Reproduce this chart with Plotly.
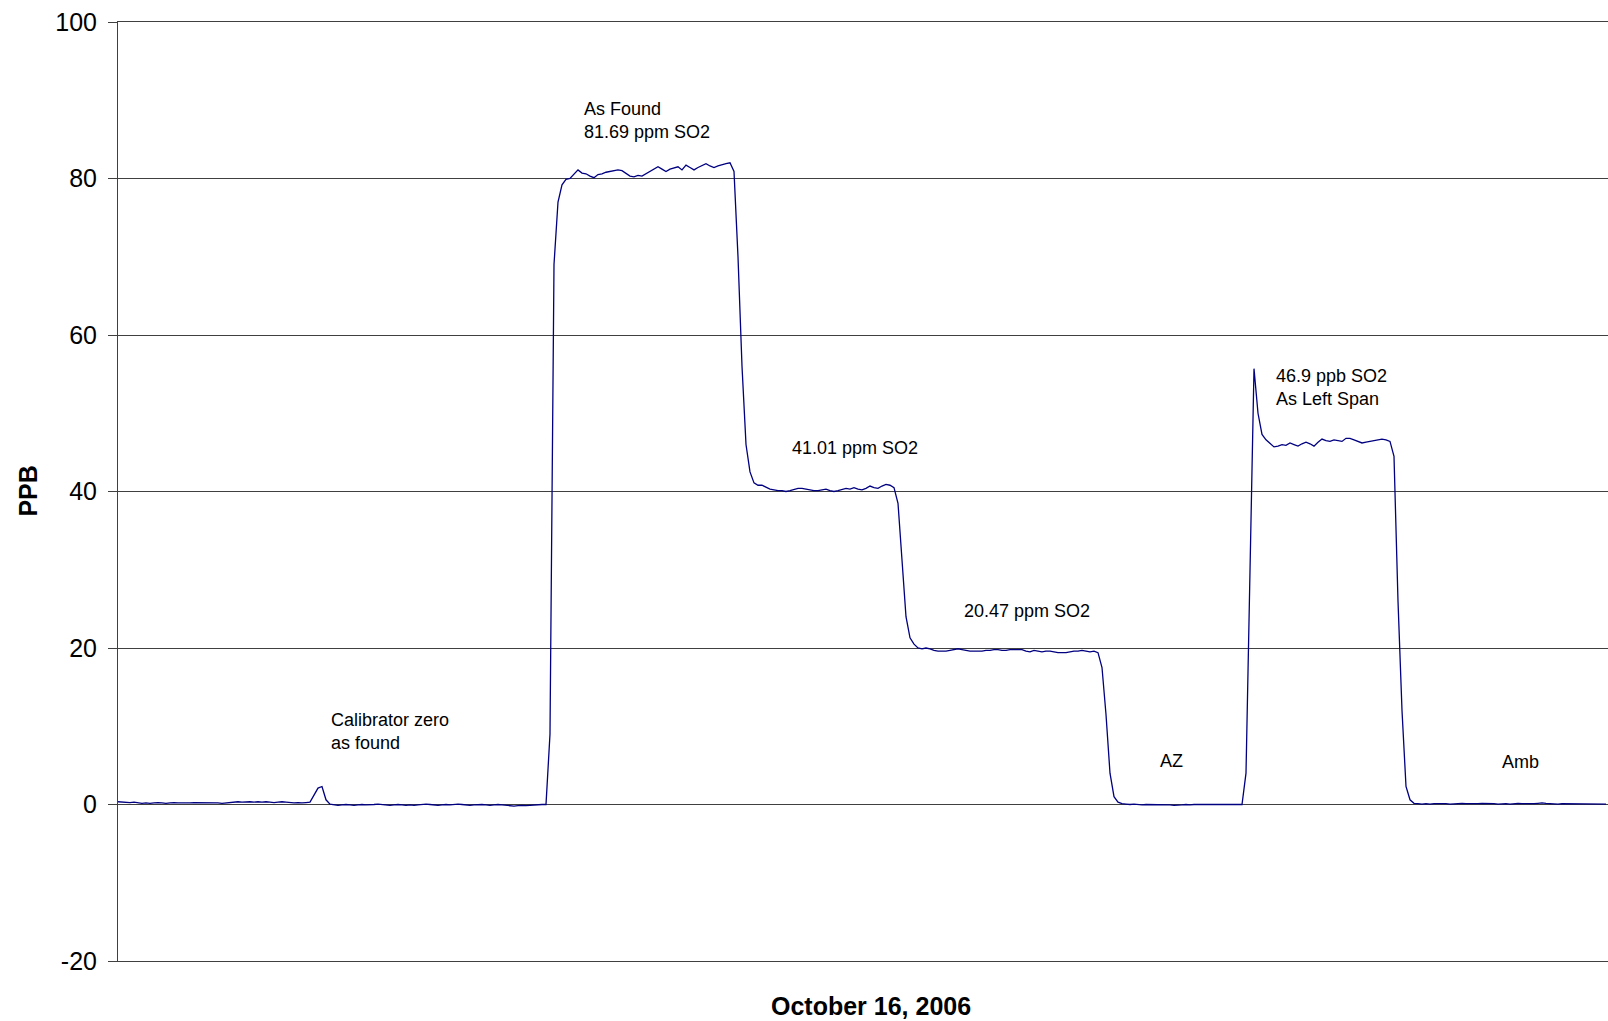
import plotly.graph_objects as go

# SO2 analyser readings (PPB), one sample every minute, grouped by calibration phase
baseline_start = [0.35,0.3,0.3,0.25,0.3,0.2,0.15,0.2,0.15,0.2,
                  0.25,0.2,0.15,0.2,0.25,0.2,0.2,0.15,0.2,0.25,
                  0.25,0.2,0.25,0.25,0.2,0.2,0.15,0.2,0.25,0.3,
                  0.35,0.3,0.35,0.35,0.3,0.35,0.3,0.35,0.3,0.25,
                  0.3,0.35,0.3,0.25,0.2,0.25,0.2,0.25]
zero_spike = [0.3,1.2,2.1,2.3,0.6,0.05]
zero_as_found = [-0.05,-0.1,-0.05,0.0,-0.05,-0.1,-0.05,0.0,-0.05,-0.05,
                 0.0,0.05,0.0,-0.05,-0.1,-0.05,0.0,-0.05,-0.1,-0.05,
                 -0.1,-0.05,0.0,0.05,0.0,-0.05,-0.1,-0.05,0.0,-0.05,
                 0.0,0.05,0.0,-0.05,-0.1,-0.05,0.0,0.0,-0.05,-0.1,
                 -0.05,0.0,-0.05,-0.1,-0.15,-0.2,-0.15,-0.1,-0.15,-0.1,
                 -0.05,-0.05,0.0,0.0]
as_found_span = [9,69,77,79.2,79.9,80.0,80.6,81.1,80.7,80.6,
                 80.3,80.1,80.5,80.6,80.8,80.9,81.0,81.1,81.0,80.7,
                 80.3,80.2,80.4,80.3,80.6,80.9,81.2,81.5,81.2,80.9,
                 81.2,81.4,81.5,81.1,81.7,81.4,81.1,81.4,81.7,81.9,
                 81.6,81.4,81.6,81.8,81.9,82.0,80.9]
span_41 = [70,56,46,42.5,41.1,40.8,40.8,40.5,40.3,40.2,
           40.1,40.1,40.0,40.1,40.3,40.4,40.4,40.3,40.2,40.1,
           40.1,40.2,40.3,40.1,40.0,40.1,40.3,40.4,40.3,40.5,
           40.3,40.2,40.4,40.7,40.5,40.4,40.7,40.9,40.8,40.5]
span_20 = [38.5,31,24,21.3,20.5,20.0,19.9,20.0,19.9,19.7,
           19.6,19.6,19.6,19.7,19.8,19.9,19.8,19.7,19.6,19.6,
           19.6,19.6,19.7,19.7,19.8,19.8,19.7,19.7,19.8,19.8,
           19.8,19.8,19.6,19.5,19.7,19.6,19.5,19.6,19.6,19.5,
           19.4,19.4,19.4,19.5,19.6,19.6,19.7,19.6,19.5,19.6,
           19.4]
auto_zero = [17.5,11.5,4.0,1.0,0.3,0.1,
             0.05,0.0,0.05,0.0,-0.05,0.0,0.0,-0.05,-0.05,0.0,
             0.0,-0.05,-0.1,-0.1,-0.05,0.0,-0.05,0.0,0.0,-0.05,
             -0.05,0.0,0.0,-0.05,0.0,-0.05,-0.05,0.0,-0.05,0.0]
as_left_span = [4,30,55.7,50,47.3,46.6,46.2,45.7,45.8,46.0,
                45.9,46.2,46.0,45.8,46.1,46.3,46.1,45.8,46.3,46.7,
                46.5,46.4,46.6,46.5,46.4,46.8,46.8,46.6,46.4,46.2,
                46.3,46.4,46.5,46.6,46.7,46.6,46.4,44.5]
ambient = [26,12,2.3,0.6,0.15,
           0.1,0.05,0.1,0.05,0.1,0.1,0.15,0.1,0.05,0.1,
           0.1,0.15,0.1,0.1,0.05,0.1,0.15,0.15,0.1,0.1,
           0.05,0.1,0.1,0.05,0.1,0.15,0.1,0.1,0.05,0.1,
           0.15,0.2,0.15,0.1,0.1,0.05,0.1,0.1,0.05,0.05,
           0.1,0.1,0.05,0.1,0.05,0.05,0.1,0.05]

ppb = (baseline_start + zero_spike + zero_as_found + as_found_span + span_41
       + span_20 + auto_zero + as_left_span + ambient)
minutes = list(range(len(ppb)))

# label text and anchor (sample index, PPB)
label_texts = ["Calibrator zero<br>as found", "As Found<br>81.69 ppm SO2", "41.01 ppm SO2",
               "20.47 ppm SO2", "AZ", "46.9 ppb SO2<br>As Left Span", "Amb"]
label_x = [52.7, 116.0, 167.9, 210.9, 260.0, 288.9, 345.4]
label_y = [9.3, 87.4, 45.6, 24.7, 5.5, 53.35, 5.45]

y_ticks = [-20, 0, 20, 40, 60, 80, 100]
y_tick_text = ["-20", "0", "20", "40", "60", "80", "100"]

FONT = "Liberation Sans, Arial, sans-serif"
AX = "#404040"

fig = go.Figure()
fig.add_trace(go.Scatter(x=minutes, y=ppb, mode="lines",
                         line=dict(color="#000080", width=1.3), showlegend=False,
                         hoverinfo="skip"))

for t, x, y in zip(label_texts, label_x, label_y):
    fig.add_annotation(x=x, y=y, text=t, showarrow=False, xanchor="left", yanchor="middle",
                       align="left", font=dict(family=FONT, size=18, color="black"))

fig.add_annotation(xref="paper", yref="paper", x=0.5054, y=-0.048, text="<b>October 16, 2006</b>",
                   showarrow=False, xanchor="center", yanchor="middle",
                   font=dict(family=FONT, size=25, color="black"))
fig.add_annotation(xref="paper", yref="paper", x=-0.061, y=0.5, text="<b>PPB</b>", textangle=-90,
                   showarrow=False, xanchor="center", yanchor="middle",
                   font=dict(family=FONT, size=25, color="black"))

fig.update_layout(
    width=1608, height=1021,
    margin=dict(l=118, r=0, t=22, b=60),
    paper_bgcolor="white", plot_bgcolor="white",
    font=dict(family=FONT, color="black"),
    hovermode=False,
    xaxis=dict(range=[0, len(ppb) - 0.5], showgrid=False, zeroline=False, showticklabels=False,
               ticks="", showline=True, linecolor=AX, linewidth=1, mirror=True, fixedrange=True),
    yaxis=dict(range=[-20, 100], tickvals=y_ticks, ticktext=y_tick_text, showgrid=True,
               gridcolor=AX, gridwidth=1,
               zeroline=False, showline=True, linecolor=AX, linewidth=1,
               ticks="outside", ticklen=9, tickcolor=AX, tickfont=dict(family=FONT, size=25),
               ticklabelstandoff=6, fixedrange=True),
)

fig.write_html("out.html", config={"displayModeBar": False, "staticPlot": True},
               post_script="document.body.style.margin='0';document.body.style.overflow='hidden';")
